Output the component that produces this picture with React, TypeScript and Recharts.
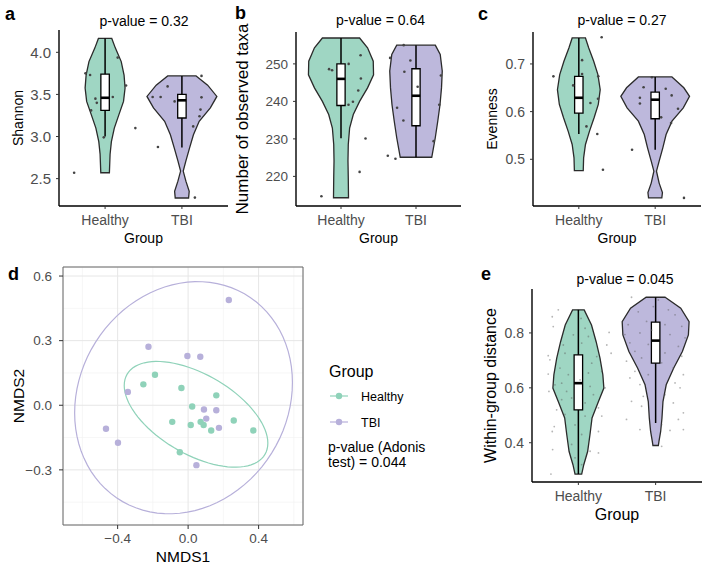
import React from 'react'
import { CartesianGrid, ReferenceArea, Scatter, ScatterChart, XAxis, YAxis } from 'recharts'

const GROUPS = ['Healthy', 'TBI']
const GREEN = '#9fd6c3'
const PURPLE = '#bdb8dc'
const GREEN_DOT = '#8fd2b9'
const PURPLE_DOT = '#b7b0da'

type Profile = Array<[number, number]> // [value, half width], top to bottom
type Box = { lo: number; q1: number; med: number; q3: number; hi: number }
type Pt = [number, number]

// a: Shannon
const shannonViolins: Profile[] = [
  [[4.165, 0.087], [4.05, 0.134], [3.89, 0.21], [3.73, 0.247], [3.575, 0.26], [3.417, 0.24], [3.26, 0.18], [3.1, 0.12], [2.94, 0.082], [2.79, 0.065], [2.57, 0.056]],
  [[3.72, 0.185], [3.61, 0.335], [3.476, 0.455], [3.34, 0.37], [3.18, 0.225], [3.02, 0.15], [2.865, 0.1], [2.71, 0.052], [2.59, 0.017], [2.47, 0.052], [2.35, 0.095], [2.27, 0.087]],
]
const shannonBoxes: Box[] = [
  { lo: 3.0, q1: 3.31, med: 3.46, q3: 3.74, hi: 4.165 },
  { lo: 2.87, q1: 3.22, med: 3.43, q3: 3.5, hi: 3.72 },
]
const shannonPoints: Pt[] = [
  [1.164, 3.937], [0.745, 3.75], [0.805, 3.73], [1.273, 3.606], [1.1, 3.47], [0.874, 3.45], [0.892, 3.4], [0.818, 3.31], [0.983, 2.99], [1.394, 3.1], [0.597, 2.57],
  [2.255, 3.72], [1.814, 3.595], [1.619, 3.47], [1.723, 3.47], [1.905, 3.417], [2.255, 3.465], [2.242, 3.32], [2.229, 3.24], [2.147, 3.12], [1.688, 2.875], [2.169, 2.275],
]

// b: observed taxa
const taxaViolins: Profile[] = [
  [[256.9, 0.248], [254.3, 0.354], [250.7, 0.43], [247.1, 0.434], [243.6, 0.354], [240, 0.248], [236.5, 0.164], [232.9, 0.115], [228.5, 0.097], [224.1, 0.093], [219.6, 0.097], [214.3, 0.1]],
  [[255, 0.257], [252.5, 0.323], [248.1, 0.35], [243.6, 0.34], [239.1, 0.32], [234.7, 0.29], [230.3, 0.257], [225.1, 0.21]],
]
const taxaBoxes: Box[] = [
  { lo: 230.2, q1: 238.9, med: 246, q3: 250, hi: 256.9 },
  { lo: 225.1, q1: 233.5, med: 241.5, q3: 248.7, hi: 255 },
]
const taxaPoints: Pt[] = [
  [1.261, 252.3], [0.841, 248.6], [0.881, 248.3], [1.102, 250], [1.265, 246.1], [1.23, 242.9], [1.1, 239.1], [1.159, 239.9], [1.327, 230.1], [1.248, 221.2], [0.739, 214.7],
  [1.836, 255], [1.655, 251.6], [1.925, 250.9], [1.845, 247.9], [2.022, 243.9], [2.332, 246.9], [1.748, 238.3], [2.31, 239.1], [1.832, 234.9], [2.235, 229.4], [1.624, 225.5], [1.726, 224.7],
]

// c: evenness
const evennessViolins: Profile[] = [
  [[0.7545, 0.087], [0.7335, 0.13], [0.7057, 0.195], [0.6776, 0.25], [0.646, 0.28], [0.615, 0.255], [0.587, 0.2], [0.559, 0.14], [0.531, 0.087], [0.503, 0.063], [0.476, 0.058]],
  [[0.6727, 0.22], [0.65, 0.375], [0.632, 0.45], [0.608, 0.368], [0.58, 0.22], [0.552, 0.143], [0.524, 0.1], [0.496, 0.052], [0.475, 0.017], [0.45, 0.052], [0.43, 0.095], [0.419, 0.087]],
]
const evennessBoxes: Box[] = [
  { lo: 0.553, q1: 0.597, med: 0.629, q3: 0.674, hi: 0.7545 },
  { lo: 0.52, q1: 0.585, med: 0.625, q3: 0.641, hi: 0.6727 },
]
const evennessPoints: Pt[] = [
  [1.299, 0.756], [0.667, 0.674], [1.043, 0.708], [1.043, 0.679], [0.926, 0.655], [1.255, 0.674], [1.152, 0.618], [1.251, 0.627], [1.1, 0.569], [1.242, 0.553], [1.316, 0.478],
  [1.848, 0.651], [1.8, 0.629], [1.8, 0.617], [2.138, 0.648], [2.216, 0.634], [2.299, 0.606], [2.078, 0.588], [2.208, 0.576], [1.957, 0.672], [1.697, 0.52], [2.377, 0.419],
]

// e: within-group distance
const distanceViolins: Profile[] = [
  [[0.884, 0.075], [0.829, 0.17], [0.768, 0.23], [0.708, 0.28], [0.647, 0.317], [0.599, 0.33], [0.55, 0.26], [0.49, 0.177], [0.429, 0.15], [0.368, 0.12], [0.32, 0.07], [0.286, 0.043]],
  [[0.93, 0.123], [0.89, 0.325], [0.841, 0.433], [0.793, 0.424], [0.732, 0.346], [0.672, 0.234], [0.611, 0.137], [0.55, 0.095], [0.49, 0.082], [0.441, 0.065], [0.405, 0.043], [0.39, 0.035]],
]
const distanceBoxes: Box[] = [
  { lo: 0.286, q1: 0.52, med: 0.617, q3: 0.72, hi: 0.884 },
  { lo: 0.472, q1: 0.69, med: 0.772, q3: 0.839, hi: 0.93 },
]
const distancePoints: Pt[] = [
  [0.74, 0.884], [0.662, 0.859], [0.675, 0.823], [1.035, 0.853], [1.087, 0.817], [1.13, 0.787], [1.043, 0.763], [1.368, 0.756], [1.424, 0.726], [0.61, 0.717],
  [0.632, 0.702], [0.827, 0.726], [1.173, 0.69], [1.238, 0.714], [0.762, 0.672], [0.61, 0.65], [0.87, 0.648], [1.13, 0.654], [1.303, 0.66], [0.784, 0.617],
  [0.697, 0.611], [0.848, 0.587], [1.152, 0.605], [1.346, 0.6], [0.619, 0.587], [1.195, 0.575], [0.913, 0.563], [1.087, 0.545], [0.719, 0.52], [1.26, 0.527],
  [0.827, 0.503], [1.087, 0.497], [1.303, 0.497], [0.688, 0.459], [0.957, 0.465], [0.662, 0.441], [1.043, 0.43], [1.26, 0.441], [0.913, 0.394], [0.667, 0.375],
  [1.152, 0.369], [1.26, 0.363], [0.957, 0.345], [0.645, 0.286], [1.043, 0.32], [0.805, 0.756], [0.935, 0.793], [1.398, 0.802], [0.784, 0.557], [1.022, 0.629],
  [1.688, 0.93], [2.035, 0.92], [1.775, 0.877], [2.165, 0.884], [2.251, 0.866], [1.645, 0.83], [1.883, 0.842], [2.121, 0.83], [2.338, 0.824], [1.602, 0.794],
  [1.797, 0.8], [2.186, 0.794], [2.381, 0.782], [1.667, 0.764], [1.905, 0.758], [2.294, 0.751], [1.732, 0.733], [2.121, 0.727], [2.338, 0.715], [1.818, 0.709],
  [1.623, 0.697], [2.078, 0.691], [2.229, 0.673], [1.732, 0.66], [1.905, 0.648], [2.359, 0.648], [1.667, 0.636], [1.797, 0.612], [2.251, 0.618], [2.121, 0.575],
  [1.84, 0.569], [2.316, 0.6], [1.688, 0.551], [2.229, 0.545], [1.818, 0.533], [2.359, 0.509], [1.623, 0.485], [2.294, 0.485], [2.078, 0.466], [1.797, 0.448],
  [2.359, 0.448], [2.186, 0.445], [2.078, 0.387], [1.97, 0.896], [1.948, 0.81],
]

// d: NMDS ordination
const nmdsHealthy: Pt[] = [
  [-0.188, 0.142], [-0.254, 0.097], [-0.038, 0.08], [0.16, 0.046], [0.023, -0.006], [-0.09, -0.077], [0.015, -0.092],
  [0.071, -0.077], [0.088, -0.092], [0.131, -0.117], [0.259, -0.071], [0.37, -0.117], [-0.047, -0.218],
]
const nmdsTbi: Pt[] = [
  [0.231, 0.489], [-0.225, 0.272], [-0.004, 0.229], [0.069, 0.225], [-0.342, 0.062], [0.09, -0.02],
  [0.16, -0.023], [0.103, -0.062], [0.175, -0.105], [-0.466, -0.109], [-0.398, -0.174], [0.047, -0.278],
]
// confidence ellipses: centre, half extents along x / y, phase between them (degrees)
const healthyEllipse = { cx: 0.045, cy: -0.042, ax: 0.4075, ay: 0.2455, phase: 123 }
const tbiEllipse = { cx: -0.026, cy: 0.035, ax: 0.618, ay: 0.539, phase: 82.5 }

const BOX_HALF = 0.055

const toXY = (pts: Pt[]) => pts.map(([x, y]) => ({ x, y }))

const violinOutline = (center: number, profile: Profile) => [
  ...profile.map(([y, w]) => ({ x: center + w, y })),
  ...[...profile].reverse().map(([y, w]) => ({ x: center - w, y })),
]

const boxOutline = (c: number, b: Box) => [
  { x: c - BOX_HALF, y: b.q1 },
  { x: c + BOX_HALF, y: b.q1 },
  { x: c + BOX_HALF, y: b.q3 },
  { x: c - BOX_HALF, y: b.q3 },
]

const ellipseOutline = (e: typeof healthyEllipse) => {
  const out = []
  for (let deg = 0; deg < 360; deg += 4) {
    const t = (deg * Math.PI) / 180
    const p = (e.phase * Math.PI) / 180
    out.push({ x: e.cx + e.ax * Math.cos(t), y: e.cy + e.ay * Math.cos(t + p) })
  }
  return out
}

const noDot = () => null
const dot = (r: number, fill: string) => (p: any) => <circle cx={p.cx} cy={p.cy} r={r} fill={fill} />

const minus = (v: number, digits: number) => (v < 0 ? '\u2212' : '') + Math.abs(v).toFixed(digits)

type PanelProps = {
  left: number
  top: number
  width: number
  height: number
  plotTop: number
  right: number
  yAxisWidth: number
  xAxisHeight: number
  domain: [number, number]
  ticks: number[]
  digits: number
  yTickFont: number
  violins: Profile[]
  boxes: Box[]
  points: Pt[]
  pointR: number
  pointFill: string
  yTitle: string
  yTitleOffset: number
  yTitleFont: number
  xTitleOffset: number
  xTitleFont: number
  xTickMargin: number
}

function ViolinPanel(p: PanelProps) {
  const fills = [GREEN, PURPLE]
  return (
    <div style={{ position: 'absolute', left: p.left, top: p.top }}>
      <ScatterChart width={p.width} height={p.height} margin={{ top: p.plotTop, right: p.right, bottom: 0, left: 0 }}>
        <XAxis
          type="number"
          dataKey="x"
          domain={[0.4, 2.6]}
          allowDataOverflow
          ticks={[1, 2]}
          interval={0}
          tickFormatter={(v) => GROUPS[v - 1]}
          height={p.xAxisHeight}
          tick={{ fill: '#4d4d4d', fontSize: 14 }}
          tickLine={{ stroke: '#333' }}
          axisLine={{ stroke: '#000', strokeWidth: 1.4 }}
          tickSize={3}
          tickMargin={p.xTickMargin}
          label={{ value: 'Group', position: 'insideBottom', offset: p.xTitleOffset, fill: '#000', fontSize: p.xTitleFont }}
        />
        <YAxis
          type="number"
          dataKey="y"
          domain={p.domain}
          allowDataOverflow
          ticks={p.ticks}
          interval={0}
          tickFormatter={(v) => v.toFixed(p.digits)}
          width={p.yAxisWidth}
          tick={{ fill: '#4d4d4d', fontSize: p.yTickFont }}
          tickLine={{ stroke: '#333' }}
          axisLine={{ stroke: '#000', strokeWidth: 1.4 }}
          tickSize={3}
          tickMargin={5}
          label={{
            value: p.yTitle,
            angle: -90,
            position: 'insideLeft',
            offset: p.yTitleOffset,
            fill: '#000',
            fontSize: p.yTitleFont,
            style: { textAnchor: 'middle' },
          }}
        />
        {p.violins.map((profile, i) => (
          <Scatter
            key={`violin-${i}`}
            data={violinOutline(i + 1, profile)}
            shape={noDot}
            line={{ fill: fills[i], stroke: '#2b2b2b', strokeWidth: 1.3 }}
            lineJointType="linearClosed"
            isAnimationActive={false}
          />
        ))}
        {p.boxes.map((b, i) => [
          <Scatter
            key={`wlo-${i}`}
            data={[{ x: i + 1, y: b.lo }, { x: i + 1, y: b.q1 }]}
            shape={noDot}
            line={{ stroke: '#000', strokeWidth: 1.5 }}
            lineJointType="linear"
            isAnimationActive={false}
          />,
          <Scatter
            key={`whi-${i}`}
            data={[{ x: i + 1, y: b.q3 }, { x: i + 1, y: b.hi }]}
            shape={noDot}
            line={{ stroke: '#000', strokeWidth: 1.5 }}
            lineJointType="linear"
            isAnimationActive={false}
          />,
          <Scatter
            key={`box-${i}`}
            data={boxOutline(i + 1, b)}
            shape={noDot}
            line={{ fill: '#fff', stroke: '#000', strokeWidth: 1.3 }}
            lineJointType="linearClosed"
            isAnimationActive={false}
          />,
          <Scatter
            key={`med-${i}`}
            data={[{ x: i + 1 - BOX_HALF, y: b.med }, { x: i + 1 + BOX_HALF, y: b.med }]}
            shape={noDot}
            line={{ stroke: '#000', strokeWidth: 2.6 }}
            lineJointType="linear"
            isAnimationActive={false}
          />,
        ])}
        <Scatter data={toXY(p.points)} shape={dot(p.pointR, p.pointFill)} isAnimationActive={false} />
      </ScatterChart>
    </div>
  )
}

function NmdsPanel() {
  return (
    <div style={{ position: 'absolute', left: 0, top: 250 }}>
      <ScatterChart width={320} height={315} margin={{ top: 17, right: 17, bottom: 0, left: 0 }}>
        <CartesianGrid verticalValues={[-0.6, -0.2, 0.2, 0.6]} horizontalValues={[-0.45, -0.15, 0.15, 0.45]} stroke="#f2f2f2" strokeWidth={0.7} />
        <CartesianGrid stroke="#e6e6e6" strokeWidth={1} />
        <XAxis
          type="number"
          dataKey="x"
          domain={[-0.71, 0.652]}
          allowDataOverflow
          ticks={[-0.4, 0, 0.4]}
          interval={0}
          tickFormatter={(v) => minus(v, 1)}
          height={40}
          tick={{ fill: '#4d4d4d', fontSize: 13.5 }}
          tickLine={{ stroke: '#333' }}
          axisLine={false}
          tickSize={4}
          tickMargin={4}
          label={{ value: 'NMDS1', position: 'insideBottom', offset: 3, fill: '#000', fontSize: 15.5 }}
        />
        <YAxis
          type="number"
          dataKey="y"
          domain={[-0.556, 0.642]}
          allowDataOverflow
          ticks={[-0.3, 0, 0.3, 0.6]}
          interval={0}
          tickFormatter={(v) => minus(v, 1)}
          width={63}
          tick={{ fill: '#4d4d4d', fontSize: 13.5 }}
          tickLine={{ stroke: '#333' }}
          axisLine={false}
          tickSize={4}
          tickMargin={7}
          label={{
            value: 'NMDS2',
            angle: -90,
            position: 'insideLeft',
            offset: 18.5,
            fill: '#000',
            fontSize: 15.5,
            style: { textAnchor: 'middle' },
          }}
        />
        <ReferenceArea x1={-0.71} x2={0.652} y1={-0.556} y2={0.642} fill="none" stroke="#6b6b6b" strokeWidth={1} />
        <Scatter data={ellipseOutline(tbiEllipse)} shape={noDot} line={{ stroke: PURPLE_DOT, strokeWidth: 1.2 }} lineJointType="linearClosed" isAnimationActive={false} />
        <Scatter data={ellipseOutline(healthyEllipse)} shape={noDot} line={{ stroke: GREEN_DOT, strokeWidth: 1.2 }} lineJointType="linearClosed" isAnimationActive={false} />
        <Scatter data={toXY(nmdsHealthy)} shape={dot(3.2, GREEN_DOT)} isAnimationActive={false} />
        <Scatter data={toXY(nmdsTbi)} shape={dot(3.2, PURPLE_DOT)} isAnimationActive={false} />
      </ScatterChart>
    </div>
  )
}

function Annotations() {
  const letter = { fontSize: 18, fontWeight: 700, fill: '#000' }
  const pval = { fontSize: 14, fill: '#000', textAnchor: 'middle' as const }
  return (
    <svg width={708} height={565} style={{ position: 'absolute', left: 0, top: 0, pointerEvents: 'none' }}>
      <text x={5} y={20} {...letter}>a</text>
      <text x={235} y={19} {...letter}>b</text>
      <text x={478} y={19.5} {...letter}>c</text>
      <text x={8} y={280} {...letter}>d</text>
      <text x={481} y={280} {...letter}>e</text>
      <text x={144} y={26} {...pval}>p-value = 0.32</text>
      <text x={380.5} y={25} {...pval}>p-value = 0.64</text>
      <text x={622} y={25} {...pval}>p-value = 0.27</text>
      <text x={625} y={284} {...pval}>p-value = 0.045</text>
      {/* legend for the ordination panel */}
      <text x={329} y={377} fontSize={16} fill="#000">Group</text>
      <line x1={330} x2={348} y1={396} y2={396} stroke={GREEN_DOT} strokeWidth={1.2} />
      <circle cx={339} cy={396} r={3.2} fill={GREEN_DOT} />
      <text x={361} y={400.5} fontSize={12.5} fill="#000">Healthy</text>
      <line x1={330} x2={348} y1={422} y2={422} stroke={PURPLE_DOT} strokeWidth={1.2} />
      <circle cx={339} cy={422} r={3.2} fill={PURPLE_DOT} />
      <text x={361} y={426.5} fontSize={12.5} fill="#000">TBI</text>
      <text x={328} y={452} fontSize={14} fill="#000">p-value (Adonis</text>
      <text x={328} y={466.5} fontSize={14} fill="#000">test) = 0.044</text>
    </svg>
  )
}

export default function App() {
  return (
    <div
      style={{
        position: 'absolute',
        left: 0,
        top: 0,
        width: 708,
        height: 565,
        background: '#fff',
        fontFamily: "'Liberation Sans', Arial, sans-serif",
      }}
    >
      <ViolinPanel
        left={0} top={0} width={240} height={250} plotTop={30} right={12} yAxisWidth={59} xAxisHeight={44}
        domain={[2.175, 4.265]} ticks={[2.5, 3, 3.5, 4]} digits={1} yTickFont={15}
        violins={shannonViolins} boxes={shannonBoxes} points={shannonPoints} pointR={1.3} pointFill="#444"
        yTitle="Shannon" yTitleOffset={18.5} yTitleFont={14} xTitleOffset={7} xTitleFont={14} xTickMargin={6}
      />
      <ViolinPanel
        left={230} top={0} width={240} height={250} plotTop={32} right={9} yAxisWidth={66} xAxisHeight={44}
        domain={[212.1, 258.5]} ticks={[220, 230, 240, 250]} digits={0} yTickFont={13.5}
        violins={taxaViolins} boxes={taxaBoxes} points={taxaPoints} pointR={1.3} pointFill="#444"
        yTitle="Number of observed taxa" yTitleOffset={12} yTitleFont={17} xTitleOffset={7} xTitleFont={14} xTickMargin={6}
      />
      <ViolinPanel
        left={470} top={0} width={238} height={250} plotTop={32} right={7} yAxisWidth={63} xAxisHeight={44}
        domain={[0.402, 0.767]} ticks={[0.5, 0.6, 0.7]} digits={1} yTickFont={14}
        violins={evennessViolins} boxes={evennessBoxes} points={evennessPoints} pointR={1.3} pointFill="#444"
        yTitle="Evenness" yTitleOffset={22} yTitleFont={14} xTitleOffset={7} xTitleFont={14} xTickMargin={6}
      />
      <NmdsPanel />
      <ViolinPanel
        left={470} top={250} width={238} height={315} plotTop={39} right={6} yAxisWidth={62} xAxisHeight={83}
        domain={[0.257, 0.96]} ticks={[0.4, 0.6, 0.8]} digits={1} yTickFont={14}
        violins={distanceViolins} boxes={distanceBoxes} points={distancePoints} pointR={0.9} pointFill="rgba(90,90,90,0.45)"
        yTitle="Within-group distance" yTitleOffset={20.5} yTitleFont={16} xTitleOffset={45.5} xTitleFont={16} xTickMargin={6}
      />
      <Annotations />
    </div>
  )
}
